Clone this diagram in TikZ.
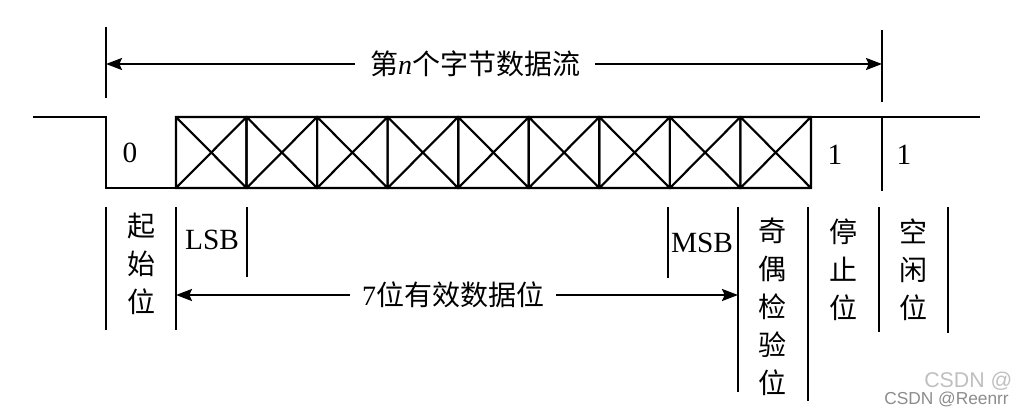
\documentclass[tikz,border=0pt]{standalone}
\usepackage{fontspec}
\setmainfont{Liberation Serif}
\newfontfamily\cjk{Noto Sans CJK SC}
\newfontfamily\wmfont{Liberation Sans}
\usetikzlibrary{arrows.meta}

\tikzset{
  wave/.style={line width=1.6pt},
  bound/.style={line width=1.6pt},
  dim/.style={line width=1.5pt, -{Stealth[length=12pt,width=9pt,inset=2pt]}},
  cjklabel/.style={inner sep=0pt, align=center, font=\cjk\fontsize{21}{28.5}\selectfont},
  bitval/.style={inner sep=0pt, font=\fontsize{22}{26}\selectfont},
}

\begin{document}
\begin{tikzpicture}[x=0.75pt, y=-0.75pt]
    \useasboundingbox (0,0) rectangle (1016,416);

    % Waveform
    \draw[wave] (33,117) -- (106,117) -- (106,188) -- (811,188);
    \draw[wave] (811,117) -- (980,117);
    \draw[wave] (882,117) -- (882,191);

    % Data cells
    \foreach \i in {0,...,8} {
        \pgfmathsetmacro\xa{176+70.55*\i}
        \pgfmathsetmacro\xb{176+70.55*(\i+1)}
        \draw[wave] (\xa,117) rectangle (\xb,188)
                    (\xa,117) -- (\xb,188)
                    (\xa,188) -- (\xb,117);
    }

    % Bit values
    \node[bitval] (v0)    at (130,153) {0};
    \node[bitval] (vstop) at (835,155) {1};
    \node[bitval] (vidle) at (904,155) {1};

    % Byte frame
    \draw[bound] (106,27) -- (106,98);
    \draw[bound] (882,30) -- (882,102);
    \coordinate (frameL) at (106,64);
    \coordinate (frameR) at (882,64);
    \node[cjklabel, inner xsep=11pt] (title) at (475,64)
        {第{\rmfamily\itshape n}个字节数据流};
    \draw[dim] (title) -- (frameL);
    \draw[dim] (title) -- (frameR);

    % Field boundaries
    \draw[bound] (106,207) -- (106,330);
    \draw[bound] (176,207) -- (176,330);
    \draw[bound] (247,207) -- (247,277);
    \draw[bound] (668,207) -- (668,278);
    \draw[bound] (738,207) -- (738,392);
    \draw[bound] (808,207) -- (808,401);
    \draw[bound] (879,207) -- (879,332);
    \draw[bound] (948,207) -- (948,333);

    % Field names
    \node[cjklabel] (start)  at (141,264) {起\\始\\位};
    \node[bitval]   (lsb)    at (212,240) {LSB};
    \node[bitval]   (msb)    at (702,243) {MSB};
    \node[cjklabel] (parity) at (772,307) {奇\\偶\\检\\验\\位};
    \node[cjklabel] (stop)   at (843,270) {停\\止\\位};
    \node[cjklabel] (idle)   at (913,270) {空\\闲\\位};

    % Data bits span
    \coordinate (dataL) at (176,295);
    \coordinate (dataR) at (738,295);
    \node[cjklabel, inner xsep=9pt] (data) at (453,295) {{\rmfamily 7}位有效数据位};
    \draw[dim] (data) -- (dataL);
    \draw[dim] (data) -- (dataR);

    % Watermark
    \node[anchor=west, inner sep=0pt, text=black!25, font=\wmfont\fontsize{16}{19}\selectfont]
        (wmbig) at (924,381) {CSDN @};
    \node[anchor=west, inner sep=0pt, text=black!45, font=\wmfont\fontsize{13}{16}\selectfont]
        (wmsmall) at (884,399) {CSDN @Reenrr};
\end{tikzpicture}
\end{document}
